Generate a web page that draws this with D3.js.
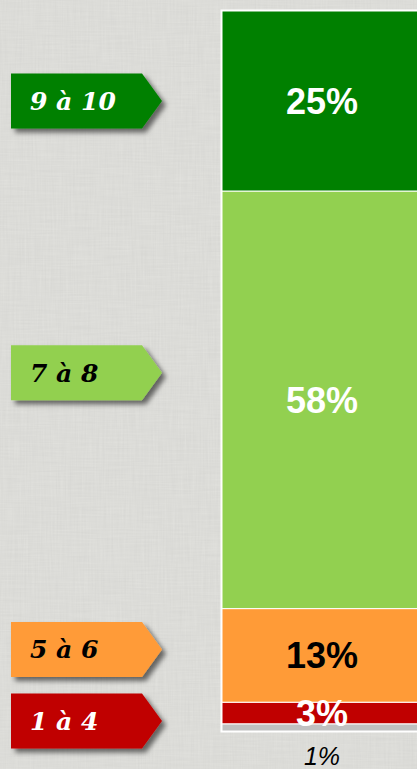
<!DOCTYPE html>
<html lang="fr">
  <head>
    <meta charset="utf-8" />
    <title>Notes – répartition</title>
    <script src="https://d3js.org/d3.v7.min.js"></script>
    <style>
      body {
        margin: 0;
        overflow: hidden;
        background: #dcdcd8;
      }
      svg {
        display: block;
      }
      .pct {
        font-family: 'Liberation Sans', Arial, sans-serif;
        text-anchor: middle;
      }
      .tag text {
        font-family: 'DejaVu Serif', Georgia, serif;
        font-weight: bold;
        font-style: italic;
        font-size: 25px;
      }
    </style>
  </head>
  <body>
    <div id="chart"></div>
    <script>
      /* ----------------------------- DATA ----------------------------- */
      // bottom to top
      const categories = ['NSP', '1 à 4', '5 à 6', '7 à 8', '9 à 10'];
      const shares = [1, 3, 13, 58, 25];
      const fills = ['#c0c0c0', '#c00000', '#ff9b37', '#92d050', '#008000'];
      const inkColors = ['#000', '#fff', '#000', '#fff', '#fff'];
      const tagInk = { '1 à 4': '#fff', '5 à 6': '#000', '7 à 8': '#000', '9 à 10': '#fff' };

      /* ---------------------------- LAYOUT ---------------------------- */
      const W = 417,
        H = 769,
        plot = { x0: 222, x1: 422, top: 11, bottom: 731 };
      // tags are hand placed next to the column, shifted from segment centres
      const tagNudge = { '9 à 10': 0, '7 à 8': -27, '5 à 6': -6, '1 à 4': 8 };

      const svg = d3
        .select('#chart')
        .append('svg')
        .attr('width', W)
        .attr('height', H);

      /* ------------------------ LINEN BACKGROUND ---------------------- */
      const defs = svg.append('defs');
      const linen = defs.append('filter').attr('id', 'linen').attr('x', 0).attr('y', 0)
        .attr('width', 1).attr('height', 1);
      linen.append('feTurbulence').attr('type', 'fractalNoise')
        .attr('baseFrequency', '0.6 0.03').attr('numOctaves', 2).attr('seed', 3).attr('result', 'v');
      linen.append('feTurbulence').attr('type', 'fractalNoise')
        .attr('baseFrequency', '0.03 0.6').attr('numOctaves', 2).attr('seed', 7).attr('result', 'h');
      linen.append('feComposite').attr('in', 'v').attr('in2', 'h').attr('operator', 'arithmetic')
        .attr('k2', 0.5).attr('k3', 0.5).attr('result', 'n');
      linen.append('feColorMatrix').attr('in', 'n').attr('type', 'matrix')
        .attr('values', '0 0 0 0 0.45  0 0 0 0 0.45  0 0 0 0 0.44  0.35 0 0 0 -0.08');

      const shadow = defs.append('filter').attr('id', 'shadow')
        .attr('x', '-10%').attr('y', '-20%').attr('width', '130%').attr('height', '150%');
      shadow.append('feDropShadow').attr('dx', 4).attr('dy', 4).attr('stdDeviation', 2.5)
        .attr('flood-color', '#000').attr('flood-opacity', 0.55);

      svg.append('rect').attr('width', W).attr('height', H).attr('fill', '#e0e0dc');
      svg.append('rect').attr('width', W).attr('height', H).attr('filter', 'url(#linen)');

      /* ---------------------------- SCALES ---------------------------- */
      const rows = [];
      let acc = 0;
      shares.forEach((v, i) => {
        rows.push({ cat: categories[i], v, y0: acc, y1: acc + v, fill: fills[i], ink: inkColors[i] });
        acc += v;
      });

      const y = d3.scaleLinear().domain([0, d3.sum(shares)]).range([plot.bottom, plot.top]);
      const x = d3.scaleBand().domain(['all']).range([plot.x0, plot.x1]);

      /* ----------------------------- COLUMN --------------------------- */
      svg.append('rect')
        .attr('x', plot.x0 - 1.5).attr('y', plot.top - 1.5)
        .attr('width', plot.x1 - plot.x0 + 3).attr('height', plot.bottom - plot.top + 3)
        .attr('fill', '#fff');

      svg.selectAll('rect.seg')
        .data(rows)
        .join('rect')
        .attr('class', 'seg')
        .attr('x', x('all'))
        .attr('width', x.bandwidth())
        .attr('y', (d) => y(d.y1))
        .attr('height', (d) => y(d.y0) - y(d.y1))
        .attr('fill', (d) => d.fill)
        .attr('stroke', '#fff')
        .attr('stroke-width', 1);

      const cx = x('all') + x.bandwidth() / 2;
      svg.selectAll('text.pct')
        .data(rows)
        .join('text')
        .attr('class', 'pct')
        .attr('x', cx)
        .attr('y', (d) => (d.v < 2 ? plot.bottom + 34 : (y(d.y0) + y(d.y1)) / 2 + 13))
        .style('font-size', (d) => (d.v < 2 ? '25px' : '36px'))
        .style('font-weight', (d) => (d.v < 2 ? 'normal' : 'bold'))
        .style('font-style', (d) => (d.v < 2 ? 'italic' : 'normal'))
        .attr('fill', (d) => d.ink)
        .text((d) => d.v + '%');

      /* ------------------------------ TAGS ---------------------------- */
      const tagW = 131, tip = 20, tagH = 55, tagX = 11;
      const tags = svg.selectAll('g.tag')
        .data(rows.filter((d) => d.cat in tagNudge))
        .join('g')
        .attr('class', 'tag')
        .attr('transform', (d) => {
          const c = (y(d.y0) + y(d.y1)) / 2 + tagNudge[d.cat];
          return `translate(${tagX},${c - tagH / 2})`;
        });

      tags.append('path')
        .attr('d', `M0,0H${tagW}L${tagW + tip},${tagH / 2}L${tagW},${tagH}H0Z`)
        .attr('fill', (d) => d.fill)
        .attr('filter', 'url(#shadow)');

      tags.append('text')
        .attr('x', 19)
        .attr('y', tagH / 2 + 9)
        .attr('fill', (d) => tagInk[d.cat])
        .text((d) => d.cat);
    </script>
  </body>
</html>
